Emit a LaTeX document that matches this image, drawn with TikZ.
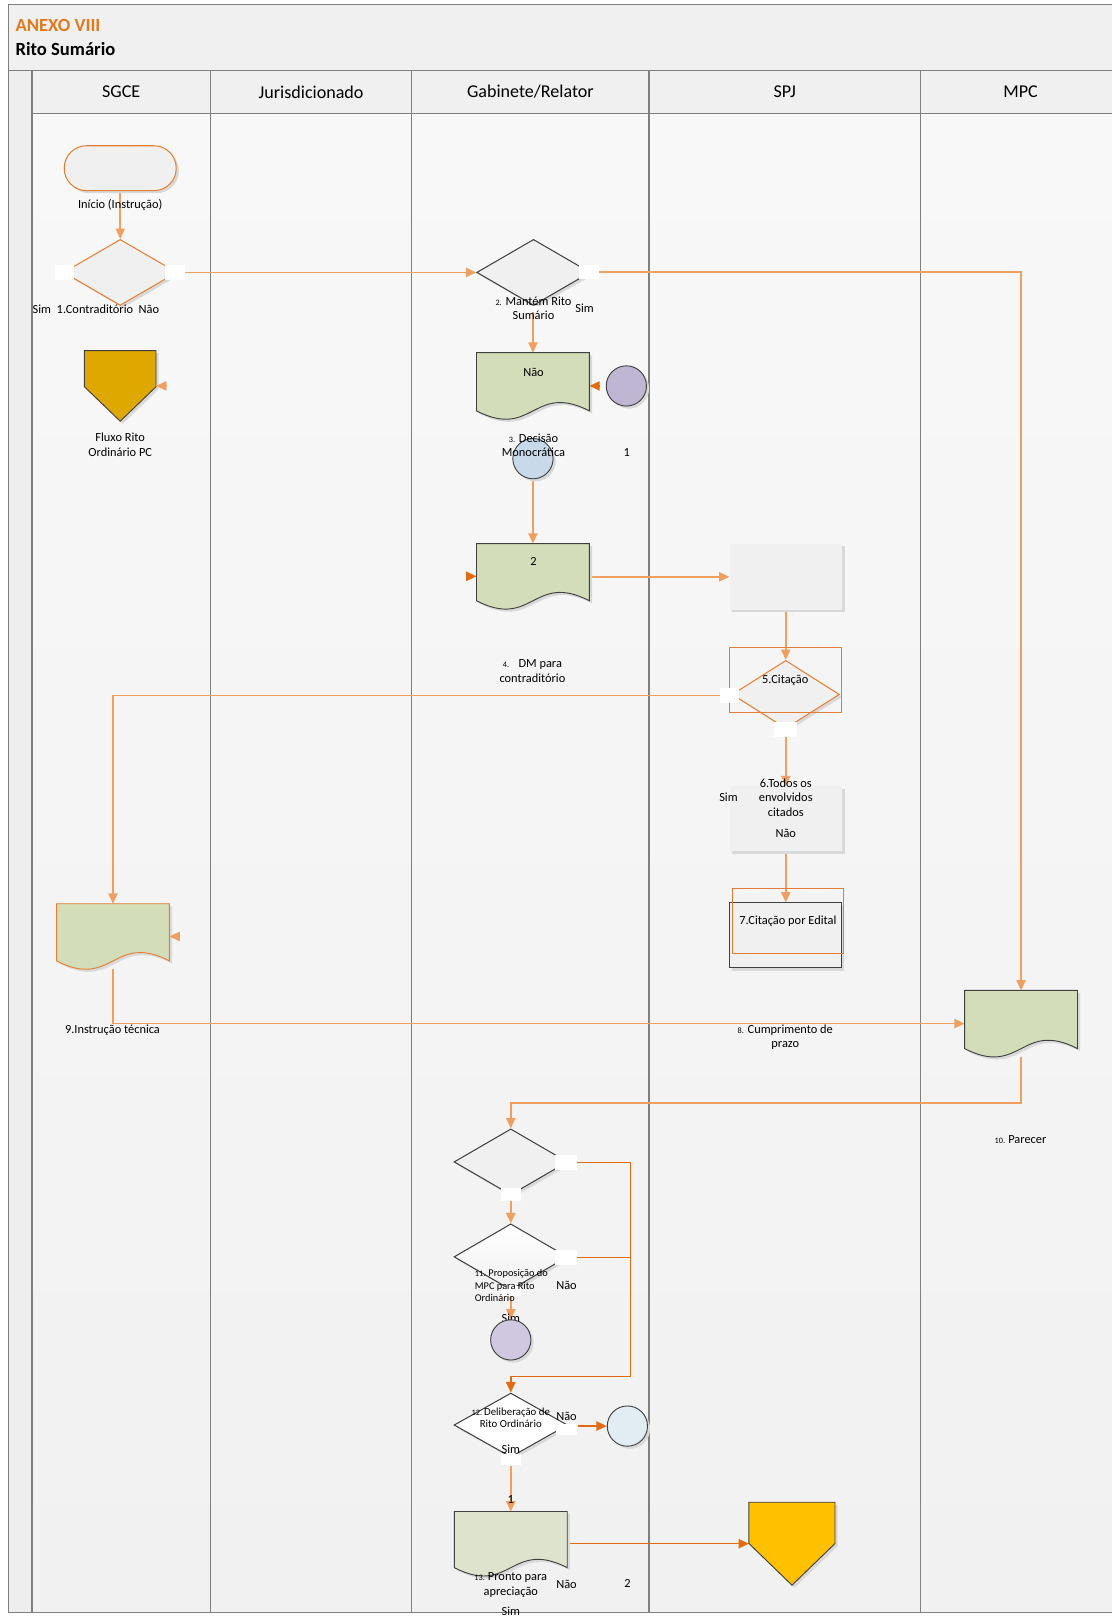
\documentclass[tikz,border=0pt]{standalone}
\usepackage{fontspec}
\setmainfont{Carlito}
\usetikzlibrary{shapes.geometric,arrows.meta,shadows,calc}
\pgfdeclarelayer{lanes}
\pgfdeclarelayer{conns}
\pgfsetlayers{lanes,conns,main}
\definecolor{lo}{HTML}{EF9F5F}
\definecolor{do}{HTML}{E26B12}
\definecolor{ob}{HTML}{E47E34}
\definecolor{frame}{HTML}{7F7F7F}
\definecolor{hdr}{HTML}{F0F0F0}
\definecolor{strip}{HTML}{EEEEEE}
\definecolor{laneTop}{HTML}{F8F8F8}
\definecolor{laneBot}{HTML}{F1F1F1}
\definecolor{boxg}{HTML}{F0F0F0}
\definecolor{docg}{HTML}{D3DDB9}
\definecolor{docgl}{HTML}{DEE3CE}
\definecolor{edge}{HTML}{404040}
\definecolor{gold}{HTML}{DFA800}
\definecolor{amber}{HTML}{FFC000}
\definecolor{purp}{HTML}{BFB6D3}
\definecolor{purpl}{HTML}{D0C8E0}
\definecolor{lblue}{HTML}{C8DAEA}
\definecolor{lbluel}{HTML}{E2ECF3}
\definecolor{titleor}{HTML}{E07A1F}
\newcommand\smn[1]{{\fontsize{8}{9}\selectfont #1}}
\newcommand\drawdoc[2]{\draw[#2] (#1.north west) -- (#1.north east) -- ([yshift=8pt]#1.south east) .. controls +(-54.5,-28) and +(54.5,28) .. ([yshift=8pt]#1.south west) -- cycle;}
\newcommand\drawpent[3]{\draw[#3] (#1.north west) -- (#1.north east) -- ([yshift=-#2pt]#1.north east) -- (#1.south) -- ([yshift=-#2pt]#1.north west) -- cycle;}
\tikzset{
  frameline/.style={draw=frame, line width=1.2pt},
  conn/.style={draw=lo, line width=1.4pt, -{Triangle[length=10pt,width=9pt]}},
  dconn/.style={draw=do, line width=1.4pt, -{Triangle[length=10pt,width=9pt]}},
  dline/.style={draw=do, line width=1.4pt},
  tiponly/.style={line width=1.4pt, -{Triangle[length=10pt,width=9pt]}},
  shad/.style={drop shadow={shadow xshift=2.5pt, shadow yshift=-2.5pt, fill=black!15, opacity=1}},
  dia/.style={diamond, inner sep=0pt, minimum width=110pt, minimum height=64pt, line width=1pt, shad},
  circ/.style={circle, inner sep=0pt, minimum size=39pt, draw=edge, line width=0.9pt, shad},
  wbox/.style={rectangle, fill=white, draw=none, inner sep=0pt, minimum width=19pt, minimum height=14pt},
  geo/.style={rectangle, draw=none, inner sep=0pt},
  grect/.style={rectangle, fill=boxg, inner sep=0pt, minimum width=109pt, minimum height=64pt, shad},
  docfill/.style={fill=docg, draw=edge, line width=0.9pt, shad},
  txt/.style={font=\fontsize{12}{14}\selectfont, inner sep=0pt, align=center},
  hdrtxt/.style={font=\fontsize{17.5}{20}\selectfont, inner sep=0pt},
  titletxt/.style={font=\fontsize{18}{20}\selectfont\bfseries, inner sep=0pt}
}
\begin{document}
\begin{tikzpicture}[x=1pt,y=-1pt]
\useasboundingbox (0,0) rectangle (1077,1568);
\begin{pgfonlayer}{lanes}
  \fill[white] (0,0) rectangle (1077,1568);
  \fill[hdr] (8,4) rectangle (1080,68);
  \fill[strip] (8,68) rectangle (31,1563);
  \fill[hdr] (31,68) rectangle (1080,110);
  \shade[top color=laneTop,bottom color=laneBot] (31,110) rectangle (1080,1563);
  \draw[frameline] (1085,4) -- (8,4) -- (8,1563) -- (1085,1563);
  \draw[frameline] (8,68) -- (1085,68);
  \draw[frameline] (31,110) -- (1085,110);
  \foreach \x in {31,204,399,629,892} \draw[frameline] (\x,68) -- (\x,1563);
\end{pgfonlayer}

% titles and lane headers
\node[titletxt, text=titleor, anchor=west] (tA) at (15,25) {ANEXO VIII};
\node[titletxt, anchor=west] (tB) at (15,48) {Rito Sumário};
\node[hdrtxt] (hA) at (117.5,89) {SGCE};
\node[hdrtxt] (hB) at (301.5,89) {Jurisdicionado};
\node[hdrtxt] (hC) at (514,89) {Gabinete/Relator};
\node[hdrtxt] (hD) at (760.5,89) {SPJ};
\node[hdrtxt] (hE) at (989,89) {MPC};

% SGCE start
\node[rectangle, rounded corners=21.5pt, minimum width=108.5pt, minimum height=43.5pt, draw=ob, line width=1pt, fill=boxg, shad] (start) at (116.5,163) {};
\node[txt] (l0) at (116.5,199) {Início (Instrução)};
\node[dia, draw=ob, fill=boxg] (d1) at (116.5,264) {};
\node[wbox] (w1l) at (62.5,264) {};
\node[wbox] (w1r) at (169.5,264) {};
\node[txt] (l1) at (93,299.5) {Sim\ \ 1.Contraditório\ \ Não};

\node[geo, minimum width=69pt, minimum height=68pt] (p1) at (116.5,374) {};
\drawpent{p1}{35}{fill=gold, draw=edge, line width=0.9pt, shad}
\draw[tiponly, lo] ([xshift=10pt]p1.east) -- (p1.east);
\node[txt] (l2) at (116.5,431) {Fluxo Rito\\Ordinário PC};

% Gabinete top
\node[dia, draw=edge, fill=boxg] (d2) at (517,264) {};
\node[wbox] (w2r) at (570.5,263.5) {};
\node[wbox, minimum width=21pt, minimum height=6pt] (w2b) at (516.5,299.5) {};
\node[txt] (l3) at (517,299) {\smn{2.} Mantém Rito\\Sumário};
\node[txt] (l3s) at (566.5,299) {Sim};

\node[geo, minimum width=109pt, minimum height=64pt] (dc3) at (516.5,374) {};
\drawdoc{dc3}{docfill}
\node[txt] (l4) at (517,361) {Não};
\draw[tiponly, do] ([xshift=10pt]dc3.east) -- (dc3.east);
\node[circ, fill=purp] (c1) at (607,374) {};
\node[txt] (l5) at (607.5,439) {1};

\node[circ, fill=lblue] (c2) at (516.5,444.5) {};
\node[txt] (l6) at (517,431.5) {\smn{3.} Decisão\\Monocrática};

\node[geo, minimum width=109pt, minimum height=63pt] (dc4) at (516.5,558.5) {};
\drawdoc{dc4}{docfill}
\node[txt] (l7) at (517,544) {2};
\draw[tiponly, do] ([xshift=-10pt]dc4.west) -- (dc4.west);
\node[txt] (l8) at (516,650.5) {\smn{4.}\hspace{9pt}DM para\\contraditório};

% SPJ
\node[grect] (r4) at (761.5,559) {};
\node[dia, draw=ob, fill=boxg, minimum width=104pt, minimum height=66pt] (d5) at (761.5,673) {};
\node[draw=ob, line width=0.9pt, inner sep=0pt, minimum width=108pt, minimum height=63pt] (d5box) at (761,658.5) {};
\node[txt] (l9) at (761,659) {5.Citação};
\node[wbox] (w5l) at (707,674) {};
\node[wbox, minimum width=22pt] (w5b) at (761.5,707) {};

\node[grect, minimum height=63pt] (r6) at (761.5,793.5) {};
\node[txt] (l10) at (761.5,773) {6.Todos os\\envolvidos\\citados};
\node[txt] (l11) at (761.5,808) {Não};
\node[txt] (l12) at (706,773) {Sim};

\node[rectangle, draw=edge, line width=0.9pt, fill=boxg, inner sep=0pt, minimum width=108pt, minimum height=63pt, shad] (r7) at (761,906.5) {};
\node[draw=ob, line width=0.9pt, inner sep=0pt, minimum width=107pt, minimum height=63pt] (r7o) at (763.5,892.5) {};
\node[txt] (l13) at (763.5,893) {7.Citação por Edital};

% SGCE doc 9
\node[geo, minimum width=109pt, minimum height=63pt] (dc9) at (109.5,907.5) {};
\drawdoc{dc9}{docfill, draw=ob}
\draw[tiponly, lo] ([xshift=10pt]dc9.east) -- (dc9.east);
\node[txt] (l14) at (109,998) {9.Instrução técnica};
\node[txt] (l15) at (761,1005) {\smn{8.} Cumprimento de\\prazo};

% MPC doc
\node[geo, minimum width=109pt, minimum height=64pt] (mpc) at (989.5,992) {};
\drawdoc{mpc}{docfill}
\node[txt] (l16) at (989,1104) {\smn{10.}\hspace{3pt}Parecer};
\coordinate (j1) at (989.5,1069);

% lower Gabinete
\node[dia, draw=edge, fill=boxg] (d13) at (495,1126) {};
\node[wbox, minimum width=21pt, minimum height=15pt] (w13r) at (548.5,1126.5) {};
\node[wbox, minimum height=13pt] (w13b) at (495,1157.5) {};

\node[dia, draw=edge, top color=white, bottom color=boxg] (d11) at (495,1218) {};
\node[wbox, minimum width=21pt, minimum height=15pt] (w11r) at (548.5,1218.5) {};
\node[wbox, minimum height=10pt] (w11b) at (495,1251) {};
\node[font=\fontsize{10}{12}\selectfont, inner sep=0pt, align=left, anchor=west] (l17) at (460,1246) {\smn{11.}\hspace{3pt}Proposição do\\MPC para Rito\\Ordinário};
\node[txt] (l18) at (549,1246) {Não};
\node[txt] (l19) at (495,1278) {Sim};
\node[circ, fill=purpl] (c3) at (495,1298.5) {};
\coordinate (j2) at (611,1334);

\node[dia, draw=edge, fill=white, minimum height=62pt] (d12) at (495,1381) {};
\node[wbox, minimum width=21pt, minimum height=11pt] (w12r) at (549,1385) {};
\node[wbox, minimum height=11pt] (w12b) at (495,1414.5) {};
\node[font=\fontsize{10.5}{12}\selectfont, inner sep=0pt, align=center] (l20) at (495,1374) {\smn{12.}\hspace{2pt}Deliberação de\\Rito Ordinário};
\node[txt] (l21) at (549,1373) {Não};
\node[txt] (l22) at (495,1404) {Sim};
\node[circ, fill=lbluel] (c4) at (608,1382) {};
\node[txt] (l23) at (495,1453) {1};

\node[geo, minimum width=109pt, minimum height=62pt] (dc13) at (495,1496) {};
\drawdoc{dc13}{docfill, fill=docgl}
\node[txt] (l24) at (495,1536) {\smn{13.}\hspace{3pt}Pronto para\\apreciação};
\node[txt] (l25) at (549,1535) {Não};
\node[txt] (l26) at (608,1535) {2};
\node[txt] (l27) at (495,1561) {Sim};

\node[geo, minimum width=83pt, minimum height=80pt] (p2) at (767.5,1496) {};
\drawpent{p2}{40}{fill=amber, draw=edge, line width=0.9pt, shad}

% connectors
\begin{pgfonlayer}{conns}
  \draw[conn] (start.south) -- (d1.north);
  \draw[conn] (w1r.east) -- (d2.west);
  \draw[conn] (w2r.east) -| (mpc.north);
  \draw[conn] (w2b.south) -- (w2b.south |- dc3.north);
  \draw[conn] (c2.south) -- (dc4.north);
  \draw[conn] (dc4.east |- r4.west) -- (r4.west);
  \draw[conn] (r4.south) -- (d5.north);
  \draw[conn] (w5l.west) -| (dc9.north);
  \draw[conn] (w5b.south) -- (w5b.south |- r6.north);
  \draw[conn] (r6.south) -- (r6.south |- r7.north);
  \draw[conn] (dc9.south) |- (mpc.west);
  \draw[conn] (mpc.south) -- (j1) -| (d13.north);
  \draw[conn] (w13b.south) -- (d11.north);
  \draw[conn] (w11b.south) -- (c3.north);
  \draw[dconn] (w13r.east) -| (j2) -| (d12.north);
  \draw[dline] (w11r.east) -- (w11r.east -| j2);
  \draw[dconn] (w12r.east |- c4.west) -- (c4.west);
  \draw[conn] (w12b.south) -- (dc13.north);
  \draw[dconn] (dc13.east) -- (p2.west);
\end{pgfonlayer}
\end{tikzpicture}
\end{document}
